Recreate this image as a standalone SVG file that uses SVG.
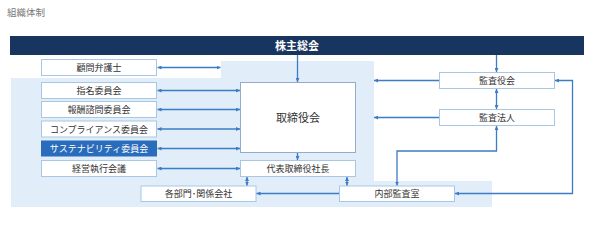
<svg xmlns="http://www.w3.org/2000/svg" width="596" height="232" viewBox="0 0 596 232">
<defs>
<marker id="ah" viewBox="0 0 6 6" refX="6" refY="3" markerWidth="4" markerHeight="4" orient="auto-start-reverse" markerUnits="userSpaceOnUse">
<path d="M0,0 L6,3 L0,6 Z" fill="#3b7cc4"/>
</marker>
<style>
text{font-family:"Noto Sans CJK JP","Noto Sans CJK SC",sans-serif;fill:#333;}
.box{fill:#fff;stroke:#a8c7e4;stroke-width:1;}
.lbl{font-size:9px;text-anchor:middle;}
.c{fill:none;stroke:#3b7cc4;stroke-width:1.3;}
</style>
</defs>
<rect width="596" height="232" fill="#fff"/>
<text x="7" y="16" style="font-size:9.5px;fill:#777">組織体制</text>
<polygon points="11,78 221,78 221,61 374,61 374,181 492,181 492,207 11,207" fill="#e1eef9"/>
<g id="shareholders">
<rect x="10" y="36" width="574" height="19" fill="#17355f"/>
<text x="297" y="50" style="font-size:11px;fill:#fff;text-anchor:middle;font-weight:bold">株主総会</text>
</g>
<g id="lawyer"><rect class="box" x="41.5" y="59.5" width="115" height="16"/><text class="lbl" x="99" y="71">顧問弁護士</text></g>
<g id="nomination"><rect class="box" x="41.5" y="82.5" width="115" height="16"/><text class="lbl" x="99" y="94">指名委員会</text></g>
<g id="compensation"><rect class="box" x="41.5" y="101.5" width="115" height="16"/><text class="lbl" x="99" y="113">報酬諮問委員会</text></g>
<g id="compliance"><rect class="box" x="41.5" y="121" width="115" height="16"/><text class="lbl" x="99" y="132.5">コンプライアンス委員会</text></g>
<g id="sustainability"><rect x="41" y="140.5" width="116" height="16" fill="#2a6cbc"/><text class="lbl" x="99" y="152" style="fill:#fff">サステナビリティ委員会</text></g>
<g id="executive"><rect class="box" x="41.5" y="160.5" width="115" height="16"/><text class="lbl" x="99" y="172">経営執行会議</text></g>
<g id="board"><rect x="240.5" y="82.5" width="115" height="70" fill="#fff" stroke="#93acc7" stroke-width="1"/><text x="298" y="122" style="font-size:11px;text-anchor:middle">取締役会</text></g>
<g id="president"><rect class="box" x="240.5" y="160.5" width="115" height="16"/><text class="lbl" x="298" y="172">代表取締役社長</text></g>
<g id="departments"><rect class="box" x="141" y="186" width="115" height="15.5"/><text class="lbl" x="198.5" y="197.3">各部門･関係会社</text></g>
<g id="internal-audit"><rect class="box" x="339.5" y="186" width="115" height="15.5"/><text class="lbl" x="397" y="197.3">内部監査室</text></g>
<g id="auditors"><rect class="box" x="439.5" y="72.5" width="115" height="16"/><text class="lbl" x="497" y="84">監査役会</text></g>
<g id="audit-firm"><rect class="box" x="439.5" y="109.5" width="115" height="16"/><text class="lbl" x="497" y="121">監査法人</text></g>
<g id="connectors">
<path class="c" d="M157.5,67.5 H220.5" marker-start="url(#ah)" marker-end="url(#ah)"/>
<path class="c" d="M157.5,90.5 H240" marker-start="url(#ah)" marker-end="url(#ah)"/>
<path class="c" d="M157.5,109.5 H240" marker-start="url(#ah)" marker-end="url(#ah)"/>
<path class="c" d="M157.5,129 H240" marker-start="url(#ah)" marker-end="url(#ah)"/>
<path class="c" d="M157.5,148.5 H240" marker-start="url(#ah)" marker-end="url(#ah)"/>
<path class="c" d="M157.5,168.5 H240" marker-start="url(#ah)" marker-end="url(#ah)"/>
<path class="c" d="M297.5,55 V82" marker-end="url(#ah)"/>
<path class="c" d="M496.5,55 V72" marker-end="url(#ah)"/>
<path class="c" d="M439,80.5 H374" marker-end="url(#ah)"/>
<path class="c" d="M439,117.5 H374" marker-end="url(#ah)"/>
<path class="c" d="M496.5,89 V109" marker-start="url(#ah)" marker-end="url(#ah)"/>
<path class="c" d="M397,185.5 V151 H496.5 V126" marker-start="url(#ah)" marker-end="url(#ah)"/>
<path class="c" d="M555,80.5 H572.5 V193.5 H455" marker-start="url(#ah)" marker-end="url(#ah)"/>
<path class="c" d="M297.5,153 V160" marker-end="url(#ah)"/>
<path class="c" d="M347,177 V185.5" marker-start="url(#ah)" marker-end="url(#ah)"/>
<path class="c" d="M247,177 V185.5" marker-start="url(#ah)" marker-end="url(#ah)"/>
<path class="c" d="M339,193.5 H256.5" marker-end="url(#ah)"/>
</g>
</svg>
